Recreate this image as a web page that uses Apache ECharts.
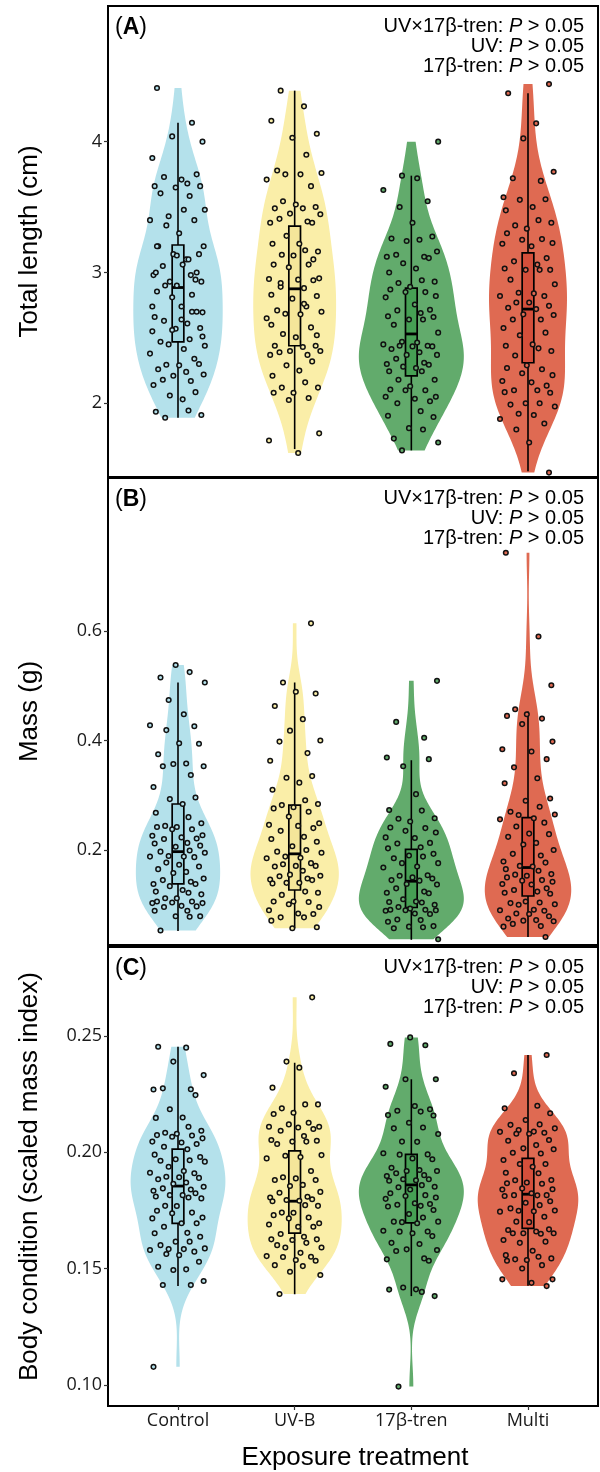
<!DOCTYPE html>
<html><head><meta charset="utf-8">
<script src="https://cdn.jsdelivr.net/npm/echarts@6/dist/echarts.min.js"></script>
<style>html,body{margin:0;padding:0;background:#fff}#chart{width:600px;height:1472px}</style>
</head><body><div id="chart"></div>
<script>
// ---------- data ----------
const CATEGORIES = ['Control', 'UV-B', '17β-tren', 'Multi'];
const Y_TITLES = ['Total length (cm)', 'Mass (g)', 'Body condition (scaled mass index)'];
const X_TITLE = 'Exposure treatment';
const PANEL_LABELS = ['A', 'B', 'C'];
const EFFECTS = ['UV×17β-tren', 'UV', '17β-tren'];
const P_TEXT = '> 0.05';

const TICKS_LENGTH = [2, 3, 4];
const TICKS_MASS = [0.2, 0.4, 0.6];
const TICKS_BCI = [0.10, 0.15, 0.20, 0.25];

// Total length (cm)
const LENGTH_CONTROL = [4.41,4.145,4.04,4.00,3.875,3.71,3.75,3.73,3.68,3.66,3.66,3.65,3.585,3.605,3.48,3.43,3.48,3.40,3.40,3.36,3.30,3.14,3.20,3.10,3.14,3.20,3.05,2.98,2.98,2.945,2.93,3.06,3.00,3.10,2.93,2.90,2.90,2.855,2.83,2.81,2.695,2.74,2.74,2.70,2.63,2.61,2.66,2.575,2.57,2.49,2.47,2.44,2.45,2.415,2.38,2.34,2.295,2.29,2.30,2.26,2.24,2.21,2.22,2.18,2.17,2.14,2.085,2.06,2.03,1.935,1.945,1.91,1.89,3.13,3.20,2.70,2.56,2.51,2.55,2.64,3.00];
const LENGTH_UVB = [4.39,4.27,4.16,4.06,4.03,3.90,3.78,3.76,3.75,3.75,3.71,3.66,3.545,3.52,3.50,3.49,3.49,3.45,3.445,3.41,3.39,3.38,3.38,3.28,3.22,3.22,3.17,3.16,3.135,3.13,3.06,3.06,3.04,2.955,2.95,2.945,2.94,2.89,2.88,2.83,2.82,2.80,2.74,2.71,2.70,2.685,2.68,2.65,2.58,2.53,2.505,2.44,2.44,2.43,2.40,2.40,2.39,2.37,2.37,2.32,2.29,2.25,2.21,2.16,2.12,2.12,2.08,2.08,2.04,2.025,1.77,1.715,1.62,3.10,2.92,2.76,2.60,2.52];
const LENGTH_TREN = [4.00,3.74,3.72,3.63,3.545,3.50,3.38,3.275,3.26,3.25,3.24,3.16,3.135,3.12,3.12,3.11,3.07,3.03,3.00,2.94,2.93,2.92,2.89,2.87,2.85,2.85,2.82,2.81,2.755,2.715,2.71,2.69,2.665,2.66,2.64,2.64,2.60,2.54,2.47,2.465,2.45,2.44,2.44,2.435,2.435,2.415,2.39,2.37,2.37,2.34,2.31,2.30,2.295,2.28,2.27,2.245,2.245,2.18,2.18,2.13,2.105,2.10,2.10,2.05,2.05,2.035,2.015,2.00,1.94,1.905,1.895,1.81,1.80,1.73,1.70,1.64];
const LENGTH_MULTI = [4.44,4.37,4.14,4.025,3.77,3.72,3.70,3.575,3.56,3.555,3.50,3.475,3.40,3.38,3.36,3.335,3.30,3.255,3.25,3.225,3.22,3.20,3.11,3.085,3.06,3.03,3.02,3.02,3.02,2.945,2.91,2.845,2.84,2.82,2.82,2.77,2.77,2.745,2.73,2.72,2.68,2.675,2.64,2.64,2.575,2.54,2.52,2.45,2.44,2.42,2.40,2.365,2.29,2.27,2.26,2.23,2.215,2.17,2.16,2.135,2.10,2.10,2.085,2.08,2.00,2.00,1.99,1.975,1.92,1.91,1.88,1.845,1.80,1.70,1.47];

// Mass (g)
const MASS_CONTROL = [0.538,0.525,0.515,0.506,0.474,0.448,0.428,0.426,0.419,0.395,0.394,0.375,0.358,0.357,0.353,0.353,0.337,0.315,0.296,0.293,0.284,0.268,0.260,0.249,0.244,0.242,0.242,0.238,0.238,0.227,0.226,0.223,0.221,0.220,0.213,0.212,0.208,0.206,0.199,0.197,0.195,0.189,0.188,0.188,0.187,0.177,0.173,0.170,0.165,0.160,0.158,0.148,0.145,0.142,0.138,0.138,0.134,0.127,0.124,0.122,0.119,0.112,0.112,0.106,0.106,0.104,0.103,0.103,0.098,0.097,0.096,0.089,0.089,0.079,0.079,0.078,0.053];
const MASS_UVB = [0.614,0.506,0.489,0.486,0.463,0.439,0.418,0.400,0.398,0.377,0.363,0.335,0.332,0.323,0.310,0.291,0.284,0.282,0.278,0.276,0.270,0.261,0.249,0.246,0.244,0.240,0.235,0.224,0.220,0.215,0.207,0.200,0.197,0.195,0.188,0.186,0.185,0.176,0.174,0.171,0.171,0.170,0.162,0.155,0.153,0.152,0.148,0.146,0.145,0.140,0.140,0.139,0.124,0.122,0.118,0.106,0.106,0.105,0.101,0.096,0.090,0.084,0.083,0.077,0.077,0.071,0.059,0.057];
const MASS_TREN = [0.509,0.434,0.405,0.369,0.366,0.353,0.302,0.273,0.272,0.258,0.257,0.252,0.241,0.240,0.235,0.232,0.223,0.222,0.213,0.212,0.205,0.203,0.193,0.190,0.188,0.185,0.176,0.176,0.170,0.168,0.154,0.153,0.150,0.148,0.145,0.144,0.138,0.137,0.130,0.124,0.122,0.121,0.110,0.106,0.105,0.104,0.100,0.096,0.093,0.091,0.091,0.090,0.090,0.089,0.084,0.083,0.073,0.072,0.069,0.061,0.060,0.059,0.057,0.037];
const MASS_MULTI = [0.743,0.590,0.501,0.457,0.448,0.445,0.440,0.430,0.398,0.384,0.380,0.366,0.351,0.331,0.322,0.294,0.290,0.279,0.270,0.265,0.264,0.258,0.256,0.250,0.243,0.230,0.229,0.224,0.213,0.210,0.200,0.193,0.190,0.179,0.177,0.171,0.170,0.165,0.162,0.156,0.155,0.153,0.150,0.145,0.144,0.142,0.138,0.137,0.130,0.127,0.124,0.122,0.120,0.106,0.104,0.103,0.101,0.100,0.091,0.090,0.089,0.084,0.083,0.079,0.075,0.072,0.071,0.070,0.065,0.061,0.060,0.041];

// Body condition (scaled mass index)
const BCI_CONTROL = [0.2454,0.2450,0.2390,0.2332,0.2275,0.2271,0.2270,0.2246,0.2185,0.2150,0.2148,0.2110,0.2093,0.2084,0.2080,0.2074,0.2072,0.2067,0.2060,0.2046,0.2042,0.2036,0.2024,0.2013,0.1990,0.1980,0.1970,0.1966,0.1964,0.1960,0.1938,0.1920,0.1912,0.1910,0.1895,0.1893,0.1890,0.1884,0.1870,0.1865,0.1852,0.1845,0.1840,0.1835,0.1824,0.1816,0.1816,0.1810,0.1806,0.1802,0.1770,0.1769,0.1749,0.1741,0.1738,0.1720,0.1716,0.1695,0.1695,0.1680,0.1654,0.1652,0.1637,0.1616,0.1616,0.1601,0.1587,0.1584,0.1584,0.1580,0.1573,0.1563,0.1558,0.1530,0.1508,0.1497,0.1494,0.1447,0.1430,0.1430,0.1078];
const BCI_UVB = [0.2666,0.2390,0.2364,0.2278,0.2206,0.2206,0.2189,0.2170,0.2165,0.2127,0.2120,0.2110,0.2110,0.2107,0.2100,0.2093,0.2070,0.2053,0.2050,0.2046,0.2046,0.2036,0.1988,0.1985,0.1980,0.1974,0.1920,0.1893,0.1888,0.1881,0.1881,0.1860,0.1855,0.1830,0.1826,0.1809,0.1806,0.1798,0.1795,0.1792,0.1790,0.1773,0.1770,0.1741,0.1740,0.1730,0.1720,0.1716,0.1695,0.1690,0.1680,0.1680,0.1649,0.1637,0.1626,0.1626,0.1623,0.1611,0.1601,0.1591,0.1591,0.1568,0.1554,0.1551,0.1550,0.1537,0.1534,0.1515,0.1511,0.1487,0.1473,0.1391];
const BCI_TREN = [0.2494,0.2466,0.2460,0.2314,0.2314,0.2282,0.2199,0.2185,0.2179,0.2175,0.2160,0.2158,0.2127,0.2107,0.2103,0.2079,0.2046,0.2045,0.1996,0.1991,0.1990,0.1974,0.1970,0.1934,0.1924,0.1920,0.1920,0.1910,0.1902,0.1898,0.1884,0.1884,0.1880,0.1878,0.1859,0.1852,0.1850,0.1840,0.1824,0.1816,0.1812,0.1806,0.1800,0.1781,0.1778,0.1775,0.1770,0.1767,0.1752,0.1735,0.1720,0.1702,0.1702,0.1700,0.1695,0.1663,0.1660,0.1659,0.1652,0.1640,0.1611,0.1606,0.1583,0.1580,0.1576,0.1544,0.1540,0.1534,0.1419,0.1411,0.1410,0.1400,0.1382,0.0993];
const BCI_MULTI = [0.2418,0.2340,0.2200,0.2189,0.2168,0.2139,0.2120,0.2118,0.2103,0.2096,0.2089,0.2088,0.2084,0.2080,0.2080,0.2053,0.2050,0.2031,0.2017,0.2013,0.1998,0.1995,0.1967,0.1950,0.1950,0.1938,0.1912,0.1910,0.1881,0.1880,0.1870,0.1867,0.1865,0.1845,0.1841,0.1840,0.1824,0.1816,0.1816,0.1815,0.1812,0.1790,0.1783,0.1773,0.1759,0.1750,0.1749,0.1747,0.1745,0.1723,0.1702,0.1700,0.1669,0.1666,0.1660,0.1652,0.1652,0.1652,0.1650,0.1623,0.1616,0.1611,0.1577,0.1558,0.1551,0.1544,0.1540,0.1537,0.1534,0.1515,0.1501,0.1454,0.1454,0.1439,0.1425];

// Box summaries: [lower whisker, Q1, median, Q3, upper whisker]
const BOX_LENGTH = [[1.89,2.47,2.885,3.21,4.145],[1.65,2.44,2.875,3.355,4.39],[1.64,2.21,2.53,2.88,3.74],[1.48,2.31,2.72,3.15,4.37]];
const BOX_MASS = [[0.052,0.138,0.197,0.284,0.506],[0.057,0.127,0.193,0.282,0.506],[0.036,0.095,0.143,0.201,0.364],[0.041,0.116,0.168,0.259,0.453]];
const BOX_BCI = [[0.1425,0.1695,0.1855,0.2014,0.2454],[0.139,0.1653,0.179,0.2006,0.2385],[0.1382,0.1697,0.186,0.1991,0.2314],[0.1427,0.1673,0.182,0.1974,0.2418]];

// ---------- layout / style ----------
const JITTER = [-0.18,0.12,-0.05,0.21,-0.22,0.03,0.16,-0.12,0.08,-0.20,0.19,-0.02,0.10,-0.15,0.23,-0.08,0.05,-0.24,0.14,-0.10,0.01,0.18,-0.17,0.07,-0.04,0.22,-0.13,0.11,-0.21,0.15,-0.07,0.04,-0.19,0.09,0.20,-0.11,-0.01];
const VIOLIN_FILL = ['#b4e1eb', '#faeea8', '#62ab6c', '#df6a52'];
const BOX_FILL = ['rgba(150,208,221,0.62)', 'rgba(242,225,145,0.62)', 'rgba(53,153,70,0.62)', 'rgba(206,63,45,0.62)'];

const PANELS = [
  { groups: [LENGTH_CONTROL, LENGTH_UVB, LENGTH_TREN, LENGTH_MULTI], box: BOX_LENGTH, ticks: TICKS_LENGTH, dec: 0, min: 1.4365, max: 5.037, top: 6, height: 471 },
  { groups: [MASS_CONTROL, MASS_UVB, MASS_TREN, MASS_MULTI], box: BOX_MASS, ticks: TICKS_MASS, dec: 1, min: 0.0265, max: 0.8795, top: 478, height: 467 },
  { groups: [BCI_CONTROL, BCI_UVB, BCI_TREN, BCI_MULTI], box: BOX_BCI, ticks: TICKS_BCI, dec: 2, min: 0.09097, max: 0.28825, top: 947, height: 459 }
];

// ---------- violin density (Gaussian KDE, nrd0 bandwidth, trimmed, area-scaled) ----------
function quantile(s, p) { const h = (s.length - 1) * p, lo = Math.floor(h); return s[lo] + (h - lo) * ((s[Math.min(lo + 1, s.length - 1)]) - s[lo]); }
function kde(vals) {
  const s = vals.slice().sort((a, b) => a - b), n = s.length;
  const mean = s.reduce((a, b) => a + b, 0) / n;
  const sd = Math.sqrt(s.reduce((a, b) => a + (b - mean) * (b - mean), 0) / (n - 1));
  const iqr = quantile(s, 0.75) - quantile(s, 0.25);
  const h = 0.9 * Math.min(sd, iqr / 1.34) * Math.pow(n, -0.2);
  const out = [], N = 160, lo = s[0], hi = s[n - 1];
  for (let i = 0; i <= N; i++) {
    const y = lo + (hi - lo) * i / N;
    let d = 0;
    for (const v of s) { const z = (y - v) / h; d += Math.exp(-0.5 * z * z); }
    out.push([y, d / (n * h * Math.sqrt(2 * Math.PI))]);
  }
  return out;
}
PANELS.forEach(p => {
  p.dens = p.groups.map(kde);
  const mx = Math.max(...p.dens.map(d => Math.max(...d.map(q => q[1]))));
  p.profile = p.dens.map(d => d.map(q => [q[0], 0.45 * q[1] / mx]));
});

// ---------- option ----------
const grids = [], xAxes = [], yAxes = [], series = [];
PANELS.forEach((p, pi) => {
  grids.push({ left: 108, right: 2, top: p.top, height: p.height, show: true, borderColor: '#000', borderWidth: 2, backgroundColor: 'transparent' });
  const last = pi === PANELS.length - 1;
  xAxes.push({
    type: 'value', gridIndex: pi, min: 0.4, max: 4.6, splitLine: { show: false },
    axisLine: { show: true, onZero: false, lineStyle: { color: '#000', width: 2 } },
    axisTick: { show: last, customValues: [1, 2, 3, 4], length: 4, lineStyle: { color: '#333', width: 1.2 } },
    axisLabel: { show: last, customValues: [1, 2, 3, 4], margin: 6, formatter: v => CATEGORIES[Math.round(v) - 1] || '',
      fontFamily: 'Open Sans', fontSize: 18, color: '#1a1a1a', lineHeight: 18 }
  });
  yAxes.push({
    type: 'value', gridIndex: pi, min: p.min, max: p.max, splitLine: { show: false },
    axisLine: { show: true, onZero: false, lineStyle: { color: '#000', width: 2 } },
    axisTick: { show: true, customValues: p.ticks, length: 4, lineStyle: { color: '#333', width: 1.2 } },
    axisLabel: { customValues: p.ticks, margin: 6, formatter: v => v.toFixed(p.dec),
      fontFamily: 'Open Sans', fontSize: 18, color: '#1a1a1a' }
  });
  // violins
  series.push({
    type: 'custom', xAxisIndex: pi, yAxisIndex: pi, clip: true,
    data: p.profile.map((pr, g) => [g + 1, pr[0][0], pr[pr.length - 1][0]]),
    encode: { x: 0, y: [1, 2] },
    renderItem: (params, api) => {
      const g = params.dataIndex, pr = p.profile[g], x0 = g + 1;
      const pts = [];
      pr.forEach(q => pts.push(api.coord([x0 + q[1], q[0]])));
      for (let i = pr.length - 1; i >= 0; i--) pts.push(api.coord([x0 - pr[i][1], pr[i][0]]));
      return { type: 'polygon', shape: { points: pts }, style: { fill: VIOLIN_FILL[g], stroke: null } };
    }
  });
  // jittered points
  p.groups.forEach((vals, g) => {
    series.push({
      type: 'scatter', xAxisIndex: pi, yAxisIndex: pi, symbol: 'circle', symbolSize: 4.6,
      itemStyle: { color: VIOLIN_FILL[g], borderColor: '#111', borderWidth: 1.5, opacity: 1 },
      data: vals.map((v, j) => [g + 1 + JITTER[(j + 7 * g + 11 * pi) % JITTER.length], v])
    });
  });
  // boxes
  series.push({
    type: 'custom', xAxisIndex: pi, yAxisIndex: pi, clip: true,
    data: p.box.map((b, g) => [g + 1, ...b]),
    encode: { x: 0, y: [1, 2, 3, 4, 5] },
    renderItem: (params, api) => {
      const g = params.dataIndex, x = api.value(0), w = 0.05;
      const lo = api.value(1), q1 = api.value(2), md = api.value(3), q3 = api.value(4), hi = api.value(5);
      const a = api.coord([x - w, q3]), b = api.coord([x + w, q1]);
      const m1 = api.coord([x - w, md]), m2 = api.coord([x + w, md]);
      const h1 = api.coord([x, hi]), h2 = api.coord([x, q3]), l1 = api.coord([x, q1]), l2 = api.coord([x, lo]);
      const ls = { stroke: '#000', lineWidth: 1.6 };
      return { type: 'group', children: [
        { type: 'line', shape: { x1: h1[0], y1: h1[1], x2: h2[0], y2: h2[1] }, style: ls },
        { type: 'line', shape: { x1: l1[0], y1: l1[1], x2: l2[0], y2: l2[1] }, style: ls },
        { type: 'rect', shape: { x: a[0], y: a[1], width: b[0] - a[0], height: b[1] - a[1] }, style: { fill: BOX_FILL[g], stroke: '#000', lineWidth: 1.7 } },
        { type: 'line', shape: { x1: m1[0], y1: m1[1], x2: m2[0], y2: m2[1] }, style: { stroke: '#000', lineWidth: 2.8 } }
      ] };
    }
  });
});

// ---------- texts ----------
const graphics = [];
const titleFont = '26px "Liberation Sans", Arial, sans-serif';
PANELS.forEach((p, pi) => {
  graphics.push({ type: 'text', x: 30, y: p.top + p.height / 2, rotation: Math.PI / 2,
    style: { text: Y_TITLES[pi], font: titleFont, fill: '#000', align: 'center', verticalAlign: 'middle', textAlign: 'center', textVerticalAlign: 'middle' } });
  graphics.push({ type: 'text', x: 115, y: p.top + 22,
    style: { text: '(' + '{b|' + PANEL_LABELS[pi] + '}' + ')', font: '23px "Liberation Sans", Arial, sans-serif', fill: '#000',
      align: 'left', verticalAlign: 'middle', textAlign: 'left', textVerticalAlign: 'middle',
      rich: { b: { fontWeight: 'bold', fontSize: 23, fontFamily: '"Liberation Sans", Arial, sans-serif', fill: '#000' } } } });
  EFFECTS.forEach((e, k) => {
    graphics.push({ type: 'text', x: 584, y: p.top + 20 + 20 * k,
      style: { text: e + ': {i|P} ' + P_TEXT, font: '20px "Liberation Sans", Arial, sans-serif', fill: '#000',
        align: 'right', verticalAlign: 'middle', textAlign: 'right', textVerticalAlign: 'middle',
        rich: { i: { fontStyle: 'italic', fontSize: 20, fontFamily: '"Liberation Sans", Arial, sans-serif', fill: '#000' } } } });
  });
});
graphics.push({ type: 'text', x: 355, y: 1458,
  style: { text: X_TITLE, font: titleFont, fill: '#000', align: 'center', verticalAlign: 'middle', textAlign: 'center', textVerticalAlign: 'middle' } });

const chart = echarts.init(document.getElementById('chart'), null, { renderer: 'canvas' });
chart.setOption({
  animation: false,
  backgroundColor: '#fff',
  grid: grids, xAxis: xAxes, yAxis: yAxes, series: series, graphic: graphics
});
</script>
</body></html>
